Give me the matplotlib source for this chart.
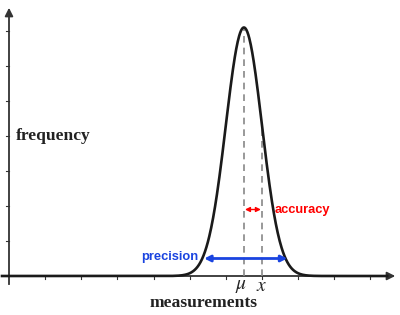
import numpy as np
import matplotlib
matplotlib.use("Agg")
import matplotlib.pyplot as plt

# chart values
mu = 6.5          # mean of the distribution
x_meas = 7.0      # measured value
sigma = 0.5       # spread of the curve
peak = 7.1        # height of the curve
x_ticks = [1, 2, 3, 4, 5, 6, 7, 8, 9, 10]
y_ticks = [1, 2, 3, 4, 5, 6, 7]
precision_span = [5.4, 7.7]
precision_level = 0.5
accuracy_level = 1.9

W, H = 400, 315
fig = plt.figure(figsize=(W / 100, H / 100), dpi=100)
ax = fig.add_axes([0, 0, 1, 1])
sx, sy = 36.14, 35.0
ox, oy = 9, 39
ax.set_xlim(-ox / sx, (W - ox) / sx)
ax.set_ylim(-oy / sy, (H - oy) / sy)
for s in ax.spines.values():
    s.set_visible(False)
ax.set_xticks([])
ax.set_yticks([])

axis_col = "#333333"
# axes with arrows
x_end = (W - 2 - ox) / sx
y_end = (H - 5 - oy) / sy
ax.plot([-7 / sx, x_end - 0.2], [0, 0], color=axis_col, lw=1.3)
ax.plot([0, 0], [-8 / sy, y_end - 0.2], color=axis_col, lw=1.3)
ax.annotate("", xy=(x_end, 0), xytext=(x_end - 0.3, 0),
            arrowprops=dict(arrowstyle="-|>", color=axis_col, lw=1.3, mutation_scale=12))
ax.annotate("", xy=(0, y_end), xytext=(0, y_end - 0.3),
            arrowprops=dict(arrowstyle="-|>", color=axis_col, lw=1.3, mutation_scale=12))
tl = 3
for t in x_ticks:
    ax.plot([t, t], [0, -tl / sy], color=axis_col, lw=0.8)
for t in y_ticks:
    ax.plot([0, -tl / sx], [t, t], color=axis_col, lw=0.8)

# curve
xs = np.linspace(-7 / sx, x_end - 0.3, 800)
ys = peak * np.exp(-0.5 * ((xs - mu) / sigma) ** 2)
ax.plot(xs, ys, color="#1a1a1a", lw=1.9, zorder=3)

# dashed lines
def g(v):
    return peak * np.exp(-0.5 * ((v - mu) / sigma) ** 2)

ax.plot([mu, mu], [0, g(mu)], color="#888888", lw=1.2, ls=(0, (4, 3)), zorder=2)
ax.plot([x_meas, x_meas], [0, g(x_meas)], color="#888888", lw=1.2, ls=(0, (4, 3)), zorder=2)

# accuracy arrow
ax.annotate("", xy=(x_meas - 0.03, accuracy_level), xytext=(mu + 0.03, accuracy_level),
            arrowprops=dict(arrowstyle="<|-|>", color="red", lw=1.0, mutation_scale=7,
                            shrinkA=0, shrinkB=0))
ax.text(x_meas + 0.35, accuracy_level, "accuracy", color="red", fontsize=9.3,
        fontweight="bold", family="Liberation Sans", va="center", ha="left")

# precision arrow
ax.annotate("", xy=(precision_span[1], precision_level), xytext=(precision_span[0], precision_level),
            arrowprops=dict(arrowstyle="<|-|>", color="#1a44e0", lw=2.0, mutation_scale=9,
                            shrinkA=0, shrinkB=0))
ax.text(precision_span[0] - 0.15, precision_level + 0.05, "precision", color="#1a44e0",
        fontsize=9.3, fontweight="bold", family="Liberation Sans", va="center", ha="right")

# labels
ax.text(7 / sx, 4.0, "frequency", fontsize=12.6, fontweight="bold", family="Liberation Serif",
        va="center", ha="left", color="#222222")
ax.text(5.38, -0.78, "measurements", fontsize=12.6, fontweight="bold", family="Liberation Serif",
        va="center", ha="center", color="#222222")
ax.text(mu - 0.08, -0.26, r"$\mu$", fontsize=14, ha="center", va="center", color="#222222",
        math_fontfamily="stix")
ax.text(x_meas, -0.26, r"$x$", fontsize=14, ha="center", va="center", color="#222222",
        math_fontfamily="stix")

fig.savefig("out.png", dpi=100)
